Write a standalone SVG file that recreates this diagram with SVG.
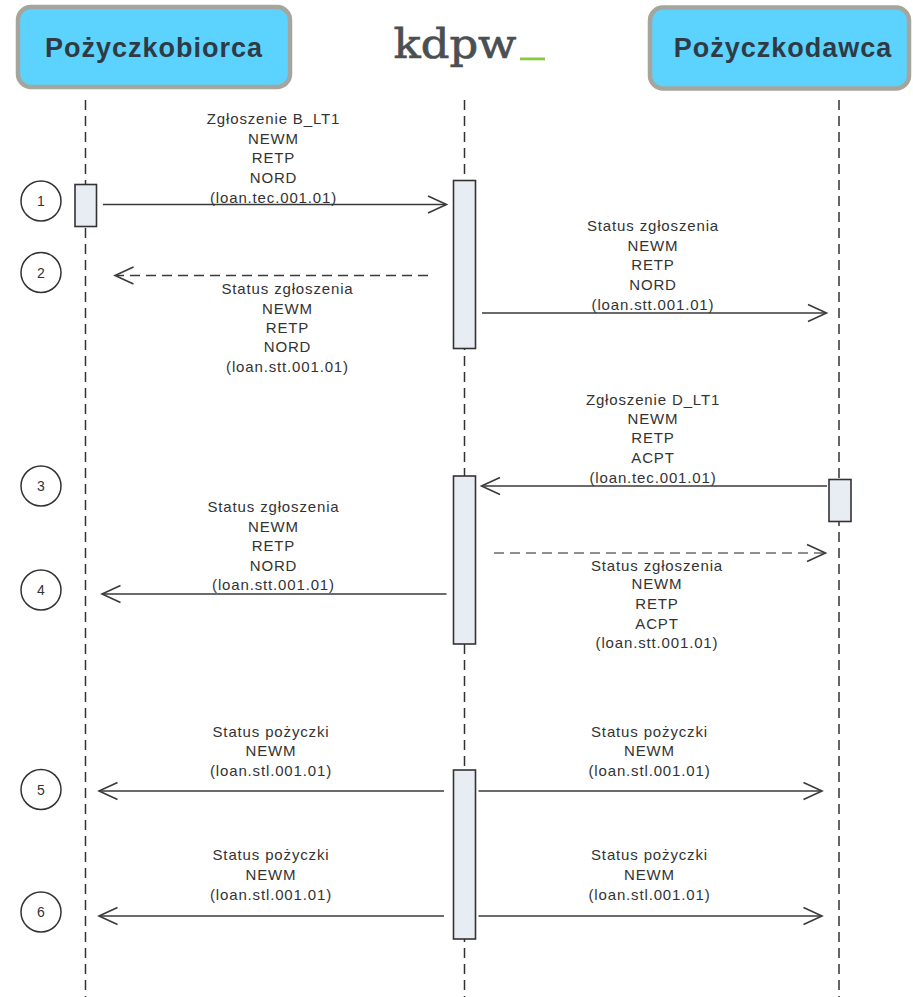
<svg xmlns="http://www.w3.org/2000/svg" width="913" height="997" viewBox="0 0 913 997">
<defs>
<style>
.hdr{fill:#5CD3FE;stroke:#A5A59D;stroke-width:4.5}
.htx{font-family:"Liberation Sans",Arial,sans-serif;font-weight:bold;font-size:27px;letter-spacing:1px;fill:#2F3A44;text-anchor:middle}
.life{stroke:#333;stroke-width:1.5;stroke-dasharray:10,6;fill:none}
.act{fill:#E8ECF3;stroke:#333;stroke-width:1.6}
.num{fill:#fff;stroke:#333;stroke-width:1.5}
.ntx{font-family:"Liberation Sans",Arial,sans-serif;font-size:14px;fill:#333;text-anchor:middle}
.lbl{font-family:"Liberation Sans",Arial,sans-serif;font-size:15px;letter-spacing:0.85px;fill:#333;text-anchor:middle}
.msg{stroke:#3A3A3A;stroke-width:1.6;fill:none}
.dash{stroke-dasharray:10,6}
.gray{stroke:#6A6A6A}
.head{stroke:#3A3A3A;stroke-width:1.6;fill:none;stroke-linejoin:miter}
</style>
</defs>
<rect width="913" height="997" fill="#fff"/>

<g id="pozyczkobiorca">
<rect class="hdr" x="18" y="7" width="272" height="80" rx="13"/>
<text class="htx" x="154" y="57">Pożyczkobiorca</text>
</g>
<g id="kdpw">
<text x="455" y="58" font-family="'DejaVu Serif','Liberation Serif',serif" font-size="41" fill="#4A4F52" stroke="#4A4F52" stroke-width="0.7" text-anchor="middle" textLength="123" lengthAdjust="spacingAndGlyphs">kdpw</text>
<rect x="520" y="57.5" width="25" height="2.8" fill="#8DC63F"/>
</g>
<g id="pozyczkodawca">
<rect class="hdr" x="650" y="7.5" width="259" height="81" rx="13"/>
<text class="htx" x="783" y="57">Pożyczkodawca</text>
</g>

<g id="lifelines">
<line class="life" x1="85.5" y1="100" x2="85.5" y2="997"/>
<line class="life" x1="464.5" y1="100" x2="464.5" y2="997"/>
<line class="life" x1="839" y1="100" x2="839" y2="997"/>
</g>

<g id="activations">
<rect class="act" x="75" y="184.5" width="21.5" height="42"/>
<rect class="act" x="453.5" y="180.5" width="22" height="168"/>
<rect class="act" x="453.5" y="476" width="22" height="168"/>
<rect class="act" x="829" y="479.5" width="22" height="42"/>
<rect class="act" x="453.5" y="770" width="22" height="169"/>
</g>

<g id="steps">
<g id="step1"><circle class="num" cx="41" cy="201" r="20"/><text class="ntx" x="41" y="206">1</text></g>
<g id="step2"><circle class="num" cx="41" cy="272.5" r="20"/><text class="ntx" x="41" y="277.5">2</text></g>
<g id="step3"><circle class="num" cx="41" cy="486" r="20"/><text class="ntx" x="41" y="491">3</text></g>
<g id="step4"><circle class="num" cx="41" cy="590" r="20"/><text class="ntx" x="41" y="595">4</text></g>
<g id="step5"><circle class="num" cx="41" cy="789.5" r="20"/><text class="ntx" x="41" y="794.5">5</text></g>
<g id="step6"><circle class="num" cx="41" cy="912" r="20"/><text class="ntx" x="41" y="917">6</text></g>
</g>

<g id="connectors">
<line class="msg" x1="103" y1="204.5" x2="446" y2="204.5"/>
<polyline class="head" points="428,196 446.5,204.5 428,213"/>

<line class="msg dash" x1="428" y1="275.5" x2="117" y2="275.5"/>
<polyline class="head" points="133.5,267 115,275.5 133.5,284"/>

<line class="msg" x1="482" y1="313" x2="826" y2="313"/>
<polyline class="head" points="808,304.5 826.5,313 808,321.5"/>

<line class="msg" x1="827" y1="486" x2="482" y2="486"/>
<polyline class="head" points="500,477.5 481.5,486 500,494.5"/>

<line class="msg gray dash" x1="494" y1="553" x2="825" y2="553"/>
<polyline class="head gray" points="807,544.5 825.5,553 807,561.5"/>

<line class="msg" x1="446.5" y1="594" x2="103" y2="594"/>
<polyline class="head" points="120.5,585.5 102,594 120.5,602.5"/>

<line class="msg" x1="444" y1="791" x2="100" y2="791"/>
<polyline class="head" points="117.5,782.5 99,791 117.5,799.5"/>
<line class="msg" x1="478.5" y1="791" x2="821" y2="791"/>
<polyline class="head" points="803.5,782.5 822,791 803.5,799.5"/>

<line class="msg" x1="444" y1="916" x2="100" y2="916"/>
<polyline class="head" points="117.5,907.5 99,916 117.5,924.5"/>
<line class="msg" x1="478.5" y1="916" x2="821" y2="916"/>
<polyline class="head" points="803.5,907.5 822,916 803.5,924.5"/>
</g>

<g id="labels">
<text class="lbl" x="273.5"><tspan x="273.5" y="123.5">Zgłoszenie B_LT1</tspan><tspan x="273.5" y="143.5">NEWM</tspan><tspan x="273.5" y="163">RETP</tspan><tspan x="273.5" y="182.5">NORD</tspan><tspan x="273.5" y="202.5">(loan.tec.001.01)</tspan></text>
<text class="lbl" x="287.5"><tspan x="287.5" y="294">Status zgłoszenia</tspan><tspan x="287.5" y="313.5">NEWM</tspan><tspan x="287.5" y="332.5">RETP</tspan><tspan x="287.5" y="352">NORD</tspan><tspan x="287.5" y="371.5">(loan.stt.001.01)</tspan></text>
<text class="lbl" x="653"><tspan x="653" y="231">Status zgłoszenia</tspan><tspan x="653" y="250.5">NEWM</tspan><tspan x="653" y="270">RETP</tspan><tspan x="653" y="290">NORD</tspan><tspan x="653" y="310">(loan.stt.001.01)</tspan></text>
<text class="lbl" x="653"><tspan x="653" y="404.5">Zgłoszenie D_LT1</tspan><tspan x="653" y="423.5">NEWM</tspan><tspan x="653" y="442.5">RETP</tspan><tspan x="653" y="462.5">ACPT</tspan><tspan x="653" y="482.5">(loan.tec.001.01)</tspan></text>
<text class="lbl" x="273.5"><tspan x="273.5" y="511.5">Status zgłoszenia</tspan><tspan x="273.5" y="531.5">NEWM</tspan><tspan x="273.5" y="550.5">RETP</tspan><tspan x="273.5" y="570.5">NORD</tspan><tspan x="273.5" y="590">(loan.stt.001.01)</tspan></text>
<text class="lbl" x="657"><tspan x="657" y="570.5">Status zgłoszenia</tspan><tspan x="657" y="589">NEWM</tspan><tspan x="657" y="609">RETP</tspan><tspan x="657" y="629">ACPT</tspan><tspan x="657" y="648">(loan.stt.001.01)</tspan></text>
<text class="lbl" x="271"><tspan x="271" y="736.5">Status pożyczki</tspan><tspan x="271" y="756">NEWM</tspan><tspan x="271" y="775.5">(loan.stl.001.01)</tspan></text>
<text class="lbl" x="649.5"><tspan x="649.5" y="736.5">Status pożyczki</tspan><tspan x="649.5" y="756">NEWM</tspan><tspan x="649.5" y="775.5">(loan.stl.001.01)</tspan></text>
<text class="lbl" x="271"><tspan x="271" y="860">Status pożyczki</tspan><tspan x="271" y="879.5">NEWM</tspan><tspan x="271" y="899.5">(loan.stl.001.01)</tspan></text>
<text class="lbl" x="649.5"><tspan x="649.5" y="860">Status pożyczki</tspan><tspan x="649.5" y="879.5">NEWM</tspan><tspan x="649.5" y="899.5">(loan.stl.001.01)</tspan></text>
</g>
</svg>
